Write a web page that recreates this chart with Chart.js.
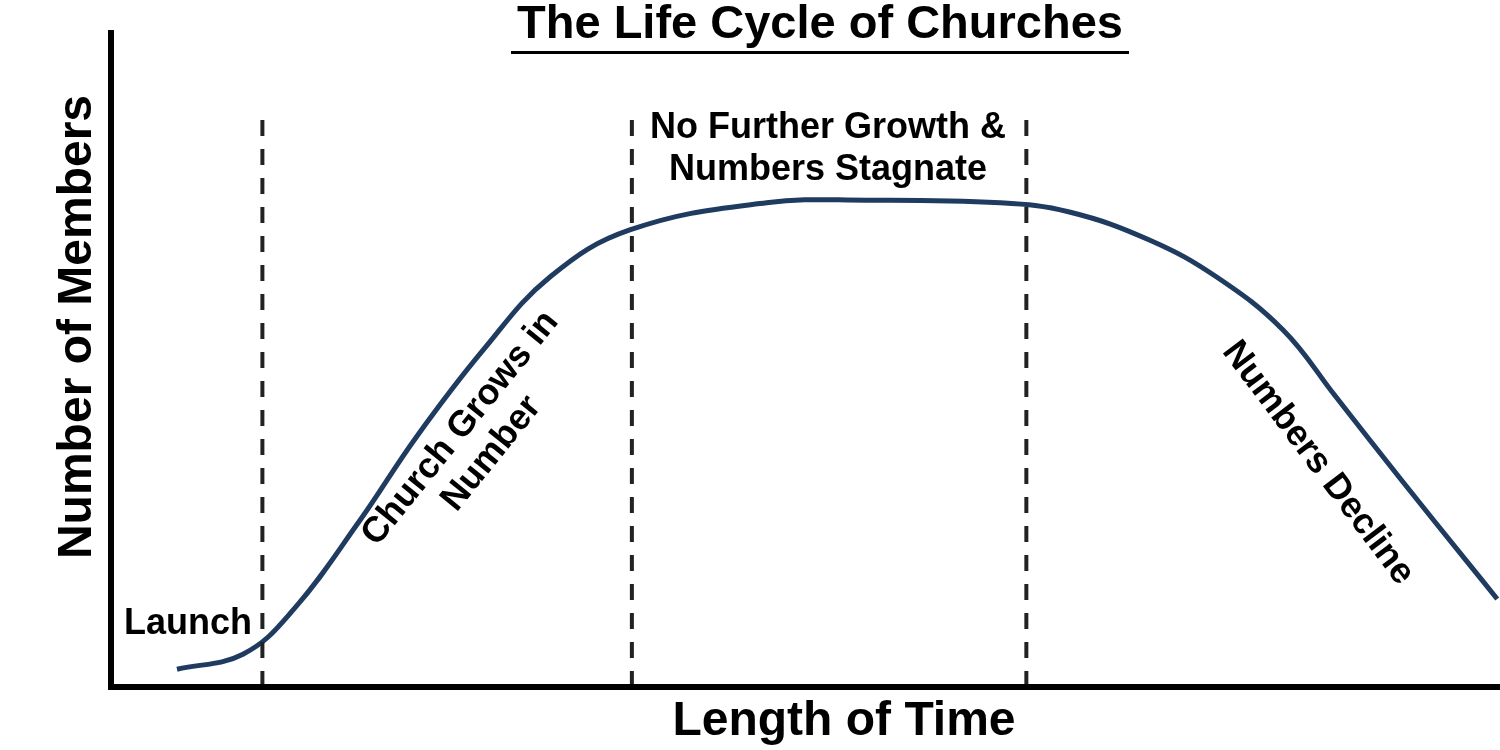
<!DOCTYPE html>
<html>
<head>
<meta charset="utf-8">
<script src="https://cdn.jsdelivr.net/npm/chart.js@4.4.1/dist/chart.umd.min.js"></script>
<style>
  body { margin: 0; background: #fff; }
  canvas { display: block; }
</style>
</head>
<body>
<canvas id="lifeCycle" width="1500" height="750"></canvas>
<script>
// Time (0-100 across the x axis) and members (0-100 up the y axis)
var timeValues = [4.75, 9.5, 13.1, 17.9, 22.0, 26.8, 31.6, 37.4, 47.2, 54.4,
  64.0, 69.0, 74.8, 79.6, 84.4, 88.1, 92.9, 97.7, 99.8];
var memberValues = [2.7, 5.0, 11.7, 25.3, 38.1, 51.3, 62.4, 69.6, 73.7, 74.1,
  73.7, 72.3, 68.0, 62.4, 54.3, 44.4, 31.5, 18.9, 13.4];

// Phase boundaries (dashed lines)
var phaseBreaks = [10.9, 37.5, 65.9];
var phaseTop = 86.6;

var chartTitle = 'The Life Cycle of Churches';
var xTitle = 'Length of Time';
var yTitle = 'Number of Members';

var curvePoints = [];
for (var i = 0; i < timeValues.length; i++) {
  curvePoints.push({ x: timeValues[i], y: memberValues[i] });
}

var datasets = [];
phaseBreaks.forEach(function (t) {
  datasets.push({
    data: [{ x: t, y: 0 }, { x: t, y: phaseTop }],
    borderColor: '#222222',
    borderWidth: 4,
    borderDash: [16, 13],
    pointRadius: 0,
    tension: 0
  });
});
datasets.push({
  data: curvePoints,
  borderColor: '#1f3b60',
  borderWidth: 5,
  pointRadius: 0,
  tension: 0.4,
  clip: false
});

var FONT = '"Liberation Sans", Arial, sans-serif';

// axes, titles and phase labels
var decorations = {
  id: 'decorations',
  afterDraw: function (chart) {
    var ctx = chart.ctx;
    var area = chart.chartArea;
    ctx.save();
    ctx.fillStyle = '#000';
    // axis lines
    ctx.fillRect(area.left - 3, area.top, 6, area.bottom - area.top + 3);
    ctx.fillRect(area.left - 3, area.bottom - 3, area.right - area.left + 3, 6);

    // title with underline
    ctx.textAlign = 'center';
    ctx.textBaseline = 'alphabetic';
    ctx.font = 'bold 47px ' + FONT;
    ctx.fillText(chartTitle, 820, 38);
    ctx.fillRect(511, 51, 618, 3);

    // axis titles
    ctx.font = 'bold 48px ' + FONT;
    ctx.fillText(xTitle, 844, 735);
    ctx.save();
    ctx.translate(91, 327);
    ctx.rotate(-Math.PI / 2);
    ctx.fillText(yTitle, 0, 0);
    ctx.restore();

    // phase labels
    ctx.font = 'bold 36px ' + FONT;
    ctx.fillText('Launch', 188, 634);
    ctx.fillText('No Further Growth &', 828, 138);
    ctx.fillText('Numbers Stagnate', 828, 180);

    ctx.textBaseline = 'middle';
    ctx.save();
    ctx.translate(476, 441);
    ctx.rotate(-51 * Math.PI / 180);
    ctx.fillText('Church Grows in', 0, -20);
    ctx.fillText('Number', 0, 20);
    ctx.restore();

    ctx.save();
    ctx.translate(1318, 463);
    ctx.rotate(53 * Math.PI / 180);
    ctx.fillText('Numbers Decline', 0, 0);
    ctx.restore();

    ctx.restore();
  }
};

new Chart(document.getElementById('lifeCycle'), {
  type: 'line',
  data: { datasets: datasets },
  options: {
    responsive: false,
    animation: false,
    layout: { padding: { left: 111, right: 0, top: 30, bottom: 63 } },
    plugins: { legend: { display: false }, tooltip: { enabled: false }, title: { display: false } },
    scales: {
      x: { type: 'linear', min: 0, max: 100, display: false },
      y: { type: 'linear', min: 0, max: 100, display: false }
    }
  },
  plugins: [decorations]
});
</script>
</body>
</html>
